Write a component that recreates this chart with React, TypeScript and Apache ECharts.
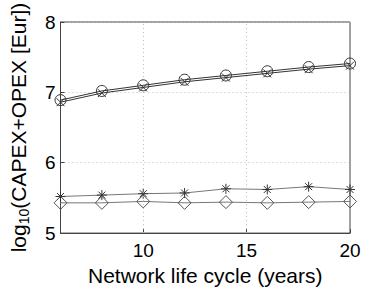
import React, { useEffect, useRef } from "react";
import * as echarts from "echarts";

const years = [6, 8, 10, 12, 14, 16, 18, 20];
const seriesCircle = [6.89, 7.02, 7.1, 7.18, 7.24, 7.3, 7.36, 7.41];
const seriesCross = [6.86, 6.99, 7.07, 7.15, 7.21, 7.27, 7.33, 7.38];
const seriesStar = [5.52, 5.54, 5.56, 5.57, 5.63, 5.62, 5.66, 5.62];
const seriesDiamond = [5.43, 5.43, 5.45, 5.43, 5.44, 5.43, 5.44, 5.45];
const xTicks = [10, 15, 20];
const xGridValues = [10, 15];

const CROSS = "path://M0,0L10,10M0,10L10,0";
const STAR = "path://M5,0L5,10M0,5L10,5M1.5,1.5L8.5,8.5M1.5,8.5L8.5,1.5";

const FONT = "'Liberation Sans', Arial, Helvetica, sans-serif";

function pairs(vals: number[]) {
  return years.map((x, i) => [x, vals[i]]);
}

export default function App() {
  const ref = useRef<HTMLDivElement>(null);
  useEffect(() => {
    if (!ref.current) return;
    const chart = echarts.init(ref.current, undefined, { renderer: "svg" });
    const lineSeries = (
      name: string,
      vals: number[],
      symbol: string,
      size: number,
      lineColor: string,
      markColor: string
    ) => ({
      name,
      type: "line",
      data: pairs(vals),
      symbol,
      symbolSize: size,
      showAllSymbol: true,
      lineStyle: { color: lineColor, width: 1 },
      itemStyle: { color: "rgba(0,0,0,0)", borderColor: markColor, borderWidth: 1 },
      z: 3,
    });
    chart.setOption({
      animation: false,
      backgroundColor: "#ffffff",
      grid: {
        left: 53,
        right: 37,
        top: 22,
        bottom: 48,
        show: true,
        borderColor: "#444",
        borderWidth: 1,
        backgroundColor: "transparent",
      },
      xAxis: {
        type: "value",
        min: 6,
        max: 20,
        name: "Network life cycle (years)",
        nameLocation: "middle",
        nameGap: 25,
        nameTextStyle: { fontFamily: FONT, fontSize: 21, color: "#000" },
        axisLine: { show: true, lineStyle: { color: "#444" } },
        axisTick: { show: true, inside: true, length: 4, customValues: xTicks, lineStyle: { color: "#444" } },
        axisLabel: { customValues: xTicks, fontFamily: FONT, fontSize: 19, color: "#000", margin: 8 },
        splitLine: { show: false },
      },
      yAxis: {
        type: "value",
        min: 5,
        max: 8,
        interval: 1,
        name: "log{sub|10}(CAPEX+OPEX [Eur])",
        nameLocation: "middle",
        nameGap: 30,
        nameRotate: 90,
        nameTextStyle: {
          fontFamily: FONT,
          fontSize: 21,
          color: "#000",
          rich: {
            sub: { fontFamily: FONT, fontSize: 14, color: "#000", verticalAlign: "bottom", padding: [10, 0, 0, 0] },
          },
        },
        axisLine: { show: true, lineStyle: { color: "#444" } },
        axisTick: { show: true, inside: true, length: 4, lineStyle: { color: "#444" } },
        axisLabel: { fontFamily: FONT, fontSize: 19, color: "#000", margin: 5 },
        splitLine: { show: true, lineStyle: { color: "#bbb", type: [1, 3], width: 1 } },
      },
      series: [
        {
          ...lineSeries("circle", seriesCircle, "circle", 11, "#333", "#333"),
          markLine: {
            silent: true,
            symbol: ["none", "none"],
            label: { show: false },
            lineStyle: { color: "#bbb", type: [1, 3], width: 1 },
            data: xGridValues.map((v) => ({ xAxis: v })),
          },
        },
        lineSeries("cross", seriesCross, CROSS, 8, "#333", "#333"),
        lineSeries("star", seriesStar, STAR, 10, "#777", "#333"),
        lineSeries("diamond", seriesDiamond, "diamond", 13, "#777", "#555"),
      ],
    });
    return () => chart.dispose();
  }, []);
  return <div ref={ref} style={{ width: 387, height: 291, position: "absolute", left: 0, top: 0 }} />;
}
